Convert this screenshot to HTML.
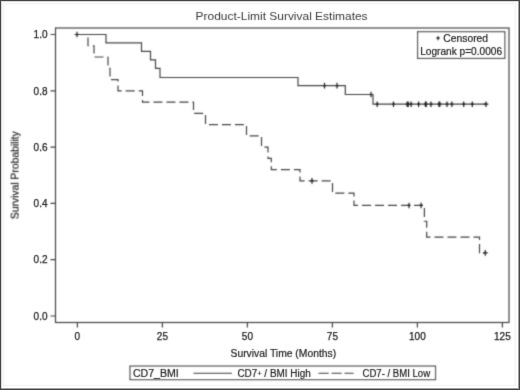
<!DOCTYPE html>
<html><head><meta charset="utf-8"><title>Product-Limit Survival Estimates</title>
<style>
html,body{margin:0;padding:0;background:#fff;}
body{width:520px;height:390px;overflow:hidden;}
svg{display:block;font-family:"Liberation Sans",Arial,sans-serif;}
</style></head><body>
<svg width="520" height="390" viewBox="0 0 520 390">
<defs><filter id="b" x="0" y="0" width="520" height="390" filterUnits="userSpaceOnUse"><feConvolveMatrix order="3" kernelMatrix="1 4 1 4 16 4 1 4 1" divisor="36" edgeMode="none"/></filter><filter id="t" x="0" y="0" width="520" height="390" filterUnits="userSpaceOnUse"><feConvolveMatrix order="3" kernelMatrix="0 1 0 1 6 1 0 1 0" divisor="10" edgeMode="none"/></filter></defs>
<rect x="0" y="0" width="520" height="390" fill="#fff"/>
<g filter="url(#b)" fill="none">
<rect x="3.5" y="3.5" width="512" height="382" stroke="#eee" stroke-width="1"/>
<rect x="55.5" y="28" width="453.5" height="294.5" stroke="#444" stroke-width="1.2"/>
<path d="M50.5,316.00H55.5M50.5,259.70H55.5M50.5,203.40H55.5M50.5,147.10H55.5M50.5,90.80H55.5M50.5,34.50H55.5M77.40,322.5V327.5M162.40,322.5V327.5M247.40,322.5V327.5M332.40,322.5V327.5M417.40,322.5V327.5M502.40,322.5V327.5" stroke="#444" stroke-width="1.2"/>
<path d="M77,34.50H106V42.80H141.5V51.30H150.5V59.80H155.5V68.30H160V77.50H298V85.60H345.3V94.50H373V104.20H487" stroke="#444" stroke-width="1.2"/>
<path d="M77,34.50H88V45.76H94V57.02H108V68.28H110V79.54H118V90.80H142.5V102.06H193.5V113.32H205.5V124.58H246.5V135.84H261.5V147.10H268V158.36H271.3V169.62H300V180.88H332.5V193.16H354V205.45H424.4V221.24H426.7V237.03H479.5V252.83H485" stroke="#444" stroke-width="1.2" stroke-dasharray="9,4" stroke-dashoffset="-1"/>
<path d="M74.60,34.50H79.40M77.00,31.70V37.30M322.90,85.60H326.10M324.50,82.80V88.40M335.40,85.60H338.60M337.00,82.80V88.40M369.40,94.50H372.60M371.00,91.70V97.30M375.60,104.20H378.80M377.20,101.40V107.00M391.90,104.20H395.10M393.50,101.40V107.00M405.60,104.20H408.80M407.20,101.40V107.00M406.60,104.20H409.80M408.20,101.40V107.00M409.50,104.20H412.70M411.10,101.40V107.00M417.00,104.20H420.20M418.60,101.40V107.00M423.80,104.20H427.00M425.40,101.40V107.00M424.60,104.20H427.80M426.20,101.40V107.00M429.40,104.20H432.60M431.00,101.40V107.00M437.40,104.20H440.60M439.00,101.40V107.00M438.20,104.20H441.40M439.80,101.40V107.00M445.40,104.20H448.60M447.00,101.40V107.00M450.30,104.20H453.50M451.90,101.40V107.00M462.10,104.20H465.30M463.70,101.40V107.00M470.70,104.20H473.90M472.30,101.40V107.00M483.60,104.20H488.40M486.00,101.40V107.00M310.40,180.88H313.60M312.00,178.08V183.68M407.40,205.45H410.60M409.00,202.65V208.25M419.50,205.45H422.70M421.10,202.65V208.25M482.90,252.83H487.70M485.30,250.03V255.63" stroke="#222" stroke-width="1.2"/>
<rect x="417.6" y="31.7" width="87.2" height="26.7" fill="#fff" stroke="#484848" stroke-width="1.2"/>
<path d="M436.10,38.20H440.10M438.10,36.10V40.30" stroke="#1a1a1a" stroke-width="1.3"/>
<rect x="130" y="366.1" width="305.5" height="13.5" fill="#fff" stroke="#484848" stroke-width="1.2"/>
<path d="M193.5,373.3H232" stroke="#333" stroke-width="1.3"/>
<path d="M318.6,373.3H353.6" stroke="#333" stroke-width="1.3" stroke-dasharray="10,3"/>
</g>
<g fill="#3a3a3a" filter="url(#t)">
<text x="281.6" y="19.8" font-size="11.3" text-anchor="middle" textLength="172" lengthAdjust="spacingAndGlyphs">Product-Limit Survival Estimates</text>
</g>
<g fill="#222" stroke="#222" stroke-width="0.25" filter="url(#t)">
<text x="47.5" y="319.70" font-size="10" text-anchor="end">0.0</text>
<text x="47.5" y="263.40" font-size="10" text-anchor="end">0.2</text>
<text x="47.5" y="207.10" font-size="10" text-anchor="end">0.4</text>
<text x="47.5" y="150.80" font-size="10" text-anchor="end">0.6</text>
<text x="47.5" y="94.50" font-size="10" text-anchor="end">0.8</text>
<text x="47.5" y="38.20" font-size="10" text-anchor="end">1.0</text>
<text x="77.40" y="340" font-size="10" text-anchor="middle">0</text>
<text x="162.40" y="340" font-size="10" text-anchor="middle">25</text>
<text x="247.40" y="340" font-size="10" text-anchor="middle">50</text>
<text x="332.40" y="340" font-size="10" text-anchor="middle">75</text>
<text x="417.40" y="340" font-size="10" text-anchor="middle">100</text>
<text x="502.40" y="340" font-size="10" text-anchor="middle">125</text>
</g>
<g fill="#222" stroke="#222" stroke-width="0.2" filter="url(#t)">
<text x="230.5" y="357.3" font-size="10.2" textLength="105.6" lengthAdjust="spacingAndGlyphs">Survival Time (Months)</text>
<text transform="translate(18.6,219.2) rotate(-90)" x="0" y="0" font-size="10.2" textLength="87.8" lengthAdjust="spacingAndGlyphs">Survival Probability</text>
<text x="443.3" y="42.2" font-size="10" textLength="44.8" lengthAdjust="spacingAndGlyphs">Censored</text>
<text x="420.2" y="54.8" font-size="10" textLength="81.9" lengthAdjust="spacingAndGlyphs">Logrank p=0.0006</text>
<text x="132.9" y="376.5" font-size="10" textLength="45.8" lengthAdjust="spacingAndGlyphs">CD7_BMI</text>
<text x="237.4" y="376.5" font-size="10" textLength="73.3" lengthAdjust="spacingAndGlyphs">CD7<tspan font-size="7.5" dy="-0.8">+</tspan><tspan dy="0.8"> / BMI High</tspan></text>
<text x="362.5" y="376.5" font-size="10" textLength="67.6" lengthAdjust="spacingAndGlyphs">CD7- / BMI Low</text>
</g>
<path d="M0,0.5H520M0.5,0V390M519.5,0V390M0,389.5H520" stroke="#444" stroke-width="1" fill="none"/>
<path d="M1,1.5H518M1.5,1V388" stroke="#d8d8d8" stroke-width="1" fill="none"/>
<path d="M518.5,1V389M1,388.5H519" stroke="#a0a0a0" stroke-width="1" fill="none"/>
</svg>
</body></html>
